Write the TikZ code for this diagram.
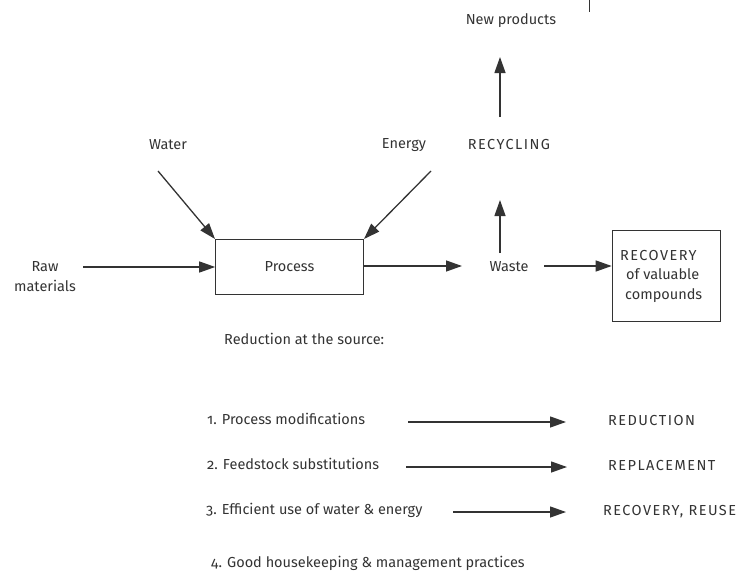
\documentclass[tikz,border=0pt]{standalone}
\usepackage{fontspec}
\setmainfont{Fira Sans}[Numbers=OldStyle]
\usetikzlibrary{arrows.meta}
\definecolor{ink}{HTML}{333333}
\newcommand{\caps}[1]{{\addfontfeatures{LetterSpace=10}#1}}
\begin{document}
\begin{tikzpicture}[x=1pt,y=-1pt,
  lbl/.style={font=\fontsize{14.5}{19.5}\selectfont, text=ink, inner sep=0pt},
  lbll/.style={lbl, anchor=west},
  arr/.style={draw=ink, line width=1.3pt, -{Triangle[length=16pt,width=11pt]}},
  boxst/.style={draw=ink, line width=0.6pt, inner sep=0pt}]
\useasboundingbox (0,0) rectangle (748,573);
% scan tick
\coordinate (t1) at (589,0); \coordinate (t2) at (589,12);
\draw[ink, line width=0.9pt] (t1) -- (t2);
% top part
\node[lbl] (newp) at (511,21) {New products};
\node[lbl] (recy) at (509,145) {\caps{RECYCLING}};
\coordinate (ra) at (500,117); \coordinate (rb) at (500,57);
\draw[arr] (ra) -- (rb);
\node[lbl] (water) at (168,145) {Water};
\node[lbl] (energy) at (404,145) {Energy};
\node[boxst, minimum width=148pt, minimum height=55pt] (proc) at (289.5,266.5) {};
\node[lbl] at (proc.center) {Process};
\coordinate (wa) at (158,171); \coordinate (wb) at (215,239);
\coordinate (ea) at (431,171); \coordinate (eb) at (364,239);
\draw[arr] (wa) -- (wb);
\draw[arr] (ea) -- (eb);
\node[lbl, align=center] (raw) at (45,276.5) {Raw\\materials};
\coordinate (rawe) at (83,267);
\draw[arr] (rawe) -- (proc.west|-rawe);
\node[lbl] (waste) at (509,267) {Waste};
\coordinate (pw) at (364,266); \coordinate (pwe) at (462,266);
\draw[arr] (pw) -- (pwe);
\coordinate (wu) at (500,253); \coordinate (wue) at (500,200);
\draw[arr] (wu) -- (wue);
\node[boxst, minimum width=108pt, minimum height=91pt] (recov) at (666,275.5) {};
\node[lbl, anchor=west, align=left] (recovt) at (620,276) {\caps{RECOVERY}\\\hspace*{6pt}of valuable\\\hspace*{5pt}compounds};
\coordinate (ws) at (544,266);
\draw[arr] (ws) -- (recov.west|-ws);
% bottom part
\node[lbll] (red) at (224,339) {Reduction at the source:};
\node[lbll] (i1) at (207,419) {1. Process modifications};
\node[lbll] (i2) at (207,464) {2. Feedstock substitutions};
\node[lbll] (i3) at (206,510) {3. Efficient use of water \& energy};
\node[lbll] (i4) at (211,563) {4. Good housekeeping \& management practices};
\node[lbll] (o1) at (608,421) {\caps{REDUCTION}};
\node[lbll] (o2) at (608,466) {\caps{REPLACEMENT}};
\node[lbll] (o3) at (603,512) {\caps{RECOVERY, REUSE}};
\coordinate (a1) at (408,422); \coordinate (b1) at (566,422);
\coordinate (a2) at (406,467); \coordinate (b2) at (567,467);
\coordinate (a3) at (453,512); \coordinate (b3) at (566,512);
\draw[arr] (a1) -- (b1);
\draw[arr] (a2) -- (b2);
\draw[arr] (a3) -- (b3);
\end{tikzpicture}
\end{document}
